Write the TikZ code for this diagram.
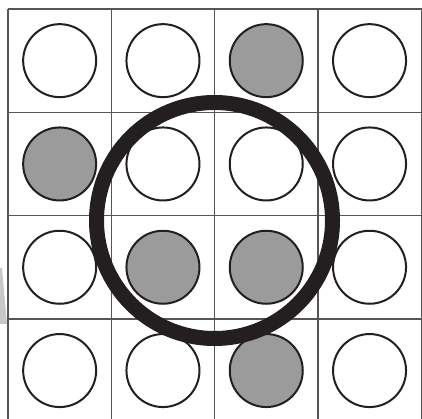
\documentclass[tikz,border=0pt]{standalone}
\usetikzlibrary{calc}
\definecolor{ink}{HTML}{231F20}
\definecolor{gridline}{HTML}{555555}
\definecolor{marked}{HTML}{9B9B9B}
\definecolor{ghost}{HTML}{C8C8C8}

\begin{document}
\begin{tikzpicture}[
  x=1pt, y=-1pt,
  cellline/.style={draw=gridline, line width=1.3pt},
  site/.style={circle, draw=ink, line width=2pt, fill=white,
    minimum size=73pt, inner sep=0pt},
  filled/.style={site, fill=marked},
  ring/.style={draw=ink, line width=15pt}
]
\useasboundingbox (0,0) rectangle (422,418);
\clip (0,0) rectangle (422,418);

% faint wedge on the left border
\fill[ghost] (0,268) -- (2,268) -- (7,324) -- (0,324) -- cycle;

% grid
\foreach \k in {0,...,4} {
  \draw[cellline] ({8+103.3*\k},9) -- ({8+103.3*\k},430);
  \draw[cellline] (8,{9+103.3*\k}) -- (430,{9+103.3*\k});
}

% sites
\foreach \r/\c/\kind in {0/0/site, 0/1/site, 0/2/filled, 0/3/site,
                         1/0/filled, 1/1/site, 1/2/site, 1/3/site,
                         2/0/site, 2/1/filled, 2/2/filled, 2/3/site,
                         3/0/site, 3/1/site, 3/2/filled, 3/3/site}
  \node[\kind] (s\r\c) at ({8+103.3*(\c+0.5)},{9+103.3*(\r+0.5)}) {};

% big ring
\coordinate (hub) at (214.5,220.5);
\draw[ring] (hub) circle[radius=118];
\end{tikzpicture}
\end{document}
